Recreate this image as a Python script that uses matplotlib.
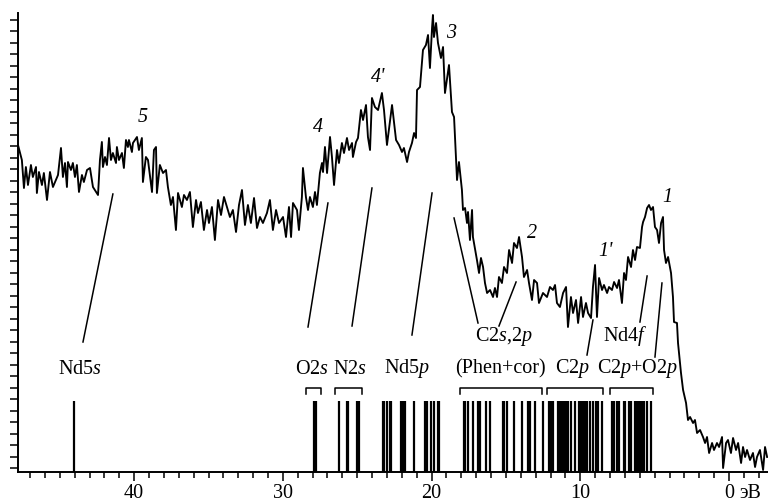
import numpy as np
import matplotlib
matplotlib.use("Agg")
import matplotlib.pyplot as plt
from matplotlib.ticker import FixedLocator, MultipleLocator, NullFormatter

plt.rcParams['font.family'] = ['Liberation Serif', 'DejaVu Serif']
plt.rcParams['mathtext.fontset'] = 'custom'
plt.rcParams['mathtext.rm'] = 'Liberation Serif'
plt.rcParams['mathtext.it'] = 'Liberation Serif:italic'

# spectrum: binding energy (eV) and intensity (arb. units)
energy = [47.81, 47.55, 47.41, 47.28, 47.14, 46.94, 46.81, 46.60, 46.54, 46.40,
          46.20, 46.07, 45.86, 45.66, 45.46, 45.26, 45.12, 44.92, 44.79, 44.65,
          44.52, 44.45, 44.25, 44.12, 43.98, 43.85, 43.71, 43.51, 43.38, 43.17,
          42.97, 42.77, 42.43, 42.30, 42.17, 42.10, 41.96, 41.83, 41.69, 41.56,
          41.43, 41.22, 41.16, 41.02, 40.82, 40.69, 40.55, 40.42, 40.35, 40.15,
          40.08, 39.81, 39.68, 39.48, 39.41, 39.21, 39.07, 38.80, 38.67, 38.53,
          38.47, 38.27, 38.06, 37.86, 37.73, 37.53, 37.39, 37.19, 37.05, 36.79,
          36.65, 36.45, 36.25, 36.05, 35.84, 35.71, 35.51, 35.31, 35.10, 34.97,
          34.77, 34.57, 34.36, 34.16, 33.96, 33.76, 33.56, 33.36, 33.15, 32.95,
          32.75, 32.55, 32.35, 32.15, 31.94, 31.74, 31.54, 31.34, 31.07, 30.87,
          30.67, 30.46, 30.26, 29.99, 29.79, 29.59, 29.45, 29.32, 29.05, 28.92,
          28.72, 28.65, 28.45, 28.31, 28.18, 27.98, 27.84, 27.71, 27.51, 27.37,
          27.30, 27.17, 27.03, 26.83, 26.70, 26.56, 26.36, 26.23, 26.03, 25.89,
          25.69, 25.55, 25.35, 25.29, 25.08, 24.95, 24.75, 24.61, 24.41, 24.28,
          24.14, 24.01, 23.81, 23.60, 23.34, 23.20, 23.00, 22.66, 22.39, 22.19,
          21.99, 21.86, 21.65, 21.52, 21.32, 21.18, 21.05, 20.98, 20.78, 20.58,
          20.38, 20.24, 20.11, 19.97, 19.91, 19.84, 19.70, 19.57, 19.37, 19.23,
          19.10, 18.83, 18.63, 18.49, 18.29, 18.16, 17.96, 17.89, 17.75, 17.62,
          17.55, 17.42, 17.28, 17.22, 16.95, 16.81, 16.68, 16.54, 16.41, 16.27,
          16.07, 15.87, 15.74, 15.60, 15.47, 15.27, 15.13, 14.93, 14.79, 14.59,
          14.46, 14.26, 14.12, 13.92, 13.79, 13.58, 13.45, 13.25, 13.11, 12.91,
          12.78, 12.51, 12.24, 12.04, 11.84, 11.70, 11.57, 11.37, 11.16, 10.96,
          10.83, 10.63, 10.49, 10.29, 10.15, 9.95, 9.82, 9.62, 9.48, 9.28,
          9.15, 9.01, 8.88, 8.74, 8.54, 8.41, 8.20, 8.07, 7.87, 7.73,
          7.53, 7.40, 7.20, 7.06, 6.93, 6.79, 6.59, 6.46, 6.32, 6.19,
          5.99, 5.85, 5.78, 5.65, 5.51, 5.38, 5.25, 5.11, 4.98, 4.84,
          4.71, 4.57, 4.44, 4.37, 4.24, 4.10, 3.90, 3.77, 3.70, 3.50,
          3.43, 3.23, 3.09, 2.89, 2.76, 2.62, 2.42, 2.29, 2.15, 1.95,
          1.75, 1.61, 1.48, 1.34, 1.14, 1.01, 0.81, 0.67, 0.47, 0.40,
          0.20, 0.07, -0.13, -0.27, -0.47, -0.61, -0.81, -0.94, -1.08, -1.21,
          -1.41, -1.61, -1.75, -1.88, -2.08, -2.29, -2.42, -2.56]
intensity = [327, 312, 284, 305, 287, 307, 295, 305, 279, 300,
             287, 299, 272, 300, 285, 292, 297, 324, 295, 309,
             285, 310, 302, 309, 295, 307, 280, 297, 290, 302,
             304, 285, 277, 312, 330, 305, 315, 307, 334, 312,
             319, 309, 325, 312, 319, 304, 332, 325, 332, 320,
             329, 335, 322, 334, 290, 315, 312, 280, 322, 325,
             279, 307, 299, 302, 285, 267, 275, 242, 279, 265,
             277, 272, 280, 245, 272, 259, 270, 242, 262, 249,
             265, 232, 272, 257, 275, 265, 255, 262, 240, 267,
             282, 247, 267, 249, 274, 244, 255, 249, 259, 272,
             242, 262, 249, 255, 235, 265, 235, 269, 262, 242,
             275, 304, 275, 262, 275, 265, 280, 267, 299, 309,
             300, 325, 299, 335, 315, 287, 322, 309, 329, 319,
             334, 322, 329, 315, 330, 334, 362, 352, 367, 335,
             322, 374, 365, 362, 379, 362, 327, 367, 332, 327,
             320, 324, 310, 320, 329, 339, 334, 382, 385, 422,
             427, 437, 404, 444, 457, 435, 449, 429, 414, 425,
             379, 407, 360, 355, 292, 310, 282, 262, 264, 249,
             260, 232, 262, 235, 212, 199, 214, 205, 189, 179,
             182, 175, 184, 175, 195, 189, 205, 199, 222, 209,
             229, 224, 235, 215, 195, 202, 189, 172, 192, 189,
             169, 179, 175, 185, 182, 187, 169, 165, 179, 185,
             145, 175, 159, 172, 149, 175, 155, 169, 159, 154,
             185, 207, 155, 194, 182, 187, 179, 185, 182, 190,
             184, 192, 169, 199, 192, 215, 205, 222, 212, 225,
             224, 245, 250, 255, 264, 267, 262, 265, 245, 242,
             229, 249, 255, 222, 209, 215, 199, 175, 150, 149,
             129, 99, 82, 69, 52, 55, 49, 52, 39, 42,
             35, 29, 35, 19, 29, 22, 29, 25, 35, 4,
             29, 32, 19, 34, 22, 29, 9, 25, 15, 22,
             12, 19, 5, 15, 22, 2, 25, 15]

# calculated levels (eV)
levels = [44.05, 27.94, 27.79, 26.23, 25.69, 25.59, 25.02, 24.88,
          23.30, 23.17, 23.03, 22.80, 22.70, 22.06, 21.94, 21.82, 21.15,
          20.44, 20.29, 20.01, 19.84, 19.60, 19.49,
          17.85, 17.73, 17.53, 17.23, 16.91, 16.75, 16.34, 16.07,
          15.23, 15.10, 14.96, 14.46, 13.92, 13.52, 13.38, 13.07, 12.53,
          12.10, 11.97, 11.82, 11.50, 11.37, 11.23, 11.10, 10.96, 10.86,
          10.64, 10.34, 10.09, 9.95, 9.82, 9.68, 9.57, 9.35, 9.18,
          8.96, 8.78, 8.56, 7.90, 7.72, 7.50, 7.38, 7.09, 6.97,
          6.72, 6.59, 6.33, 6.20, 6.07, 5.93, 5.80, 5.70, 5.50, 5.26]

# groups of levels marked with brackets (high, low energy)
groups = [(28.45, 27.44), (26.50, 24.68), (18.09, 12.58), (12.24, 8.47), (8.00, 5.11)]
group_names = ['O2$s$', 'N2$s$', '(Phen+cor)', 'C2$p$', 'C2$p$+O2$p$']

fig = plt.figure(figsize=(7.68, 5.04), dpi=100)
ax = fig.add_axes([18/768, 32/504, 750/768, 459/504])

ax.plot(energy, intensity, color='black', lw=1.35)
ax.vlines(levels, 0, 71, color='black', lw=1.6)

for (l, r) in groups:
    ax.plot([l, l, r, r], [78, 84, 84, 78], color='black', lw=1.1)

fs = 14.5
label_x = [28.04, 25.49, 15.40, 10.56, 6.19]
for name, x in zip(group_names, label_x):
    ax.text(x, 103, name, ha='center', va='center', fontsize=fs)
ax.text(21.65, 103, 'Nd5$p$', ha='center', va='center', fontsize=fs)
ax.text(43.64, 103, 'Nd5$s$', ha='center', va='center', fontsize=fs)
ax.text(15.13, 136, 'C2$s$,2$p$', ha='center', va='center', fontsize=fs)
ax.text(6.99, 136, 'Nd4$f$', ha='center', va='center', fontsize=fs)

# leader lines from features to their assignment
leaders = [((41.43, 278), (43.44, 130)), ((26.97, 269), (28.31, 145)),
           ((24.01, 284), (25.35, 146)), ((19.97, 279), (21.32, 137)),
           ((18.49, 254), (16.88, 149)), ((14.32, 190), (15.47, 146)),
           ((9.15, 152), (9.55, 117)), ((5.51, 196), (5.99, 150)),
           ((4.51, 189), (4.98, 115))]
for a, b in leaders:
    ax.plot([a[0], b[0]], [a[1], b[1]], color='black', lw=1.1)

peaks = [('5', 39.41, 354), ('4', 27.64, 345), ("4'", 23.60, 394), ('3', 18.70, 438),
         ('2', 13.25, 239), ("1'", 8.34, 220), ('1', 4.17, 275)]
for t, x, y in peaks:
    ax.text(x, y, t, ha='center', va='center', fontsize=fs, style='italic')

ax.set_xlim(47.81, -2.62)
ax.set_ylim(0, 459)
ax.xaxis.set_major_locator(FixedLocator([40, 30, 20, 10, 0]))
ax.xaxis.set_minor_locator(MultipleLocator(1))
ax.set_xticklabels(['40', '30', '20', '10', '0'], fontsize=fs)
ax.yaxis.set_major_locator(FixedLocator(np.arange(4, 459, 11.5)))
ax.yaxis.set_major_formatter(NullFormatter())
ax.tick_params(axis='x', which='major', direction='out', length=6.5, width=1.1, pad=2)
ax.tick_params(axis='x', which='minor', direction='out', length=4, width=1.1)
ax.tick_params(axis='y', direction='out', length=5.5, width=1.1)
ax.annotate('эВ', xy=(0, 0), xycoords=('data', 'axes fraction'), xytext=(7.5, -8.5),
            textcoords='offset points', ha='left', va='top', fontsize=fs)

for s in ['top', 'right']:
    ax.spines[s].set_visible(False)
for s in ['left', 'bottom']:
    ax.spines[s].set_linewidth(1.4)

fig.savefig('out.png', dpi=100)
